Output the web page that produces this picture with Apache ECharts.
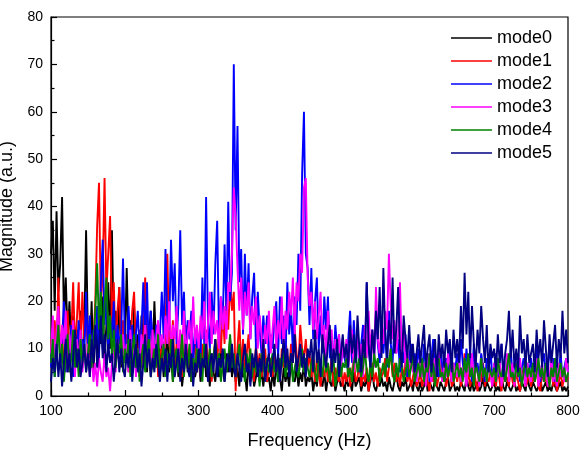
<!DOCTYPE html>
<html>
<head>
<meta charset="utf-8">
<script src="https://cdn.jsdelivr.net/npm/echarts@6/dist/echarts.min.js"></script>
<style>html,body{margin:0;padding:0;background:#fff}#c{width:581px;height:452px}</style>
</head>
<body>
<div id="c"></div>
<script>
// Frequency grid: 100 Hz .. 800 Hz, 2.5 Hz spacing (each row below = 50 Hz)
const freqStart = 100;
const freqStep = 2.5;
const seriesNames = ['mode0', 'mode1', 'mode2', 'mode3', 'mode4', 'mode5'];
const seriesColors = ['#000000', '#ff0000', '#0000ff', '#ff00ff', '#008000', '#000080'];

const mode0 = [
  30,37,18,39,22,28,42,16,25,12,20,9,17,7,14,10,18,6,13,35,
  12,8,20,5,14,9,17,11,21,7,15,24,10,35,13,18,8,23,6,14,
  9,27,11,16,6,19,8,13,4,17,10,14,5,12,18,7,20,9,15,6,
  11,4,8,13,5,9,3,7,10,4,8,2,6,11,5,7,3,9,4,6,
  8,3,6,10,4,7,2,9,5,3,8,4,11,6,3,9,5,12,4,7,
  3,6,2,8,4,5,1,7,3,6,2,4,8,3,5,2,6,3,4,1,
  5,2,7,3,4,1,6,3,5,2,8,4,3,6,2,5,3,7,2,4,
  3,5,1,4,2,6,3,2,5,1,4,3,2,5,1,3,4,2,3,1,
  4,2,3,1,5,2,3,4,1,3,2,4,1,3,5,2,1,3,2,4,
  2,3,1,4,2,1,3,5,2,1,3,2,4,1,2,3,1,4,2,1,
  3,1,2,4,1,3,2,1,4,2,1,3,2,1,3,4,1,2,3,1,
  2,1,3,2,1,4,2,1,3,1,2,3,1,2,4,1,3,2,1,2,
  3,1,2,1,4,2,1,3,2,1,2,3,1,2,1,3,2,1,4,2,
  1,3,2,1,2,4,1,2,3,1,2,1,3,2,1,2,3,1,2,1,
  2
];
const mode1 = [
  12,6,16,9,25,7,14,5,11,18,8,13,24,10,16,24,9,22,12,18,
  8,15,6,12,20,36,45,19,26,46,22,30,38,15,24,9,18,23,10,16,
  7,13,5,11,18,22,9,8,14,6,12,25,10,15,5,11,7,13,4,9,
  10,6,14,30,12,8,16,5,11,7,13,4,9,15,6,10,3,8,12,5,
  9,4,11,7,14,5,10,3,8,12,6,15,9,18,11,21,14,24,18,22,
  1,10,16,6,12,4,9,13,5,8,3,11,6,9,4,7,10,3,6,8,
  4,9,5,7,3,10,6,12,8,5,11,7,14,9,6,15,10,8,12,6,
  9,4,7,3,8,5,2,6,4,7,3,5,8,2,6,4,3,7,2,5,
  3,6,2,5,8,3,4,7,2,5,3,6,1,4,7,3,5,2,6,4,
  5,8,3,6,10,4,7,3,5,2,6,4,8,3,5,2,4,6,2,3,
  5,2,4,7,3,1,5,3,6,2,4,8,3,5,2,4,6,2,3,5,
  3,6,2,4,9,3,5,2,4,6,3,1,5,3,7,2,4,3,5,2,
  4,2,6,3,1,5,3,4,2,6,3,2,5,3,1,4,6,2,3,5,
  2,4,3,6,2,1,5,3,4,2,3,6,2,4,1,3,5,2,4,3,
  4
];
const mode2 = [
  6,14,4,10,17,7,12,20,5,11,8,15,4,13,9,16,6,12,8,22,
  10,17,7,14,11,19,8,24,33,15,21,9,17,12,20,8,15,11,13,29,
  12,7,19,10,15,6,13,18,9,14,24,11,24,8,18,12,7,15,10,13,
  22,12,31,16,14,33,20,28,11,19,35,15,22,9,16,12,18,7,14,10,
  13,8,25,11,42,16,10,22,13,28,37,12,21,15,32,18,41,20,26,70,
  35,57,24,31,13,30,17,28,12,21,26,10,22,14,9,17,11,17,8,13,
  10,16,20,8,21,11,17,7,24,13,19,9,21,15,30,18,47,60,30,27,
  15,27,12,20,25,10,17,9,21,14,21,8,12,7,15,10,13,6,11,8,
  6,12,18,7,16,9,13,5,11,15,8,24,10,6,14,8,17,11,7,13,
  9,14,6,18,11,7,15,9,12,5,10,7,13,4,8,11,6,9,5,10,
  7,4,11,6,9,3,8,12,5,7,4,10,6,3,8,5,11,4,7,6,
  9,5,12,7,4,10,6,8,3,11,5,7,4,9,6,3,8,5,10,4,
  6,9,4,7,11,5,3,8,6,10,4,7,5,9,3,6,8,4,7,5,
  8,4,6,10,5,3,7,9,4,6,11,5,8,3,7,5,9,4,6,8,
  5
];
const mode3 = [
  9,17,6,14,19,8,15,11,18,5,13,9,16,4,12,7,14,5,10,6,
  11,4,9,3,7,2,8,5,3,9,4,6,1,7,10,5,12,6,9,13,
  7,11,5,14,8,12,4,10,6,13,9,15,7,11,5,14,8,12,16,10,
  13,8,17,11,20,9,15,12,19,7,14,10,18,8,13,16,9,21,11,15,
  10,17,12,20,9,15,22,11,18,13,16,10,21,14,19,12,24,22,30,44,
  38,27,18,25,14,22,17,24,12,19,15,21,10,17,13,8,15,11,18,9,
  14,19,10,16,12,21,9,18,14,22,17,25,13,24,20,30,26,44,46,25,
  19,22,14,20,12,17,22,10,15,8,18,11,14,7,12,9,13,6,11,8,
  12,6,10,14,5,9,13,7,11,4,15,8,18,10,14,6,23,12,9,16,
  11,18,14,30,19,12,16,9,13,24,8,15,6,10,4,8,5,7,3,6,
  8,4,7,2,9,5,3,6,8,4,10,5,3,7,4,9,6,3,7,5,
  4,8,3,6,5,2,7,4,9,3,6,5,2,8,4,6,3,7,5,2,
  7,3,5,8,2,6,4,9,3,5,7,2,6,4,8,3,5,2,7,4,
  3,6,4,8,2,5,7,3,6,2,4,8,3,5,2,7,4,6,3,8,
  5
];
const mode4 = [
  7,12,4,10,15,6,11,3,9,13,5,8,14,6,10,4,12,7,11,5,
  9,13,6,11,18,28,14,22,10,19,25,12,17,8,14,6,11,9,13,5,
  10,7,12,4,9,13,6,10,3,8,11,5,9,12,4,7,10,6,13,5,
  8,11,4,9,6,12,3,8,10,5,7,13,4,9,6,11,3,8,5,10,
  6,9,3,11,7,5,10,4,8,12,6,9,3,7,10,5,8,13,6,9,
  4,8,11,5,7,3,9,6,10,4,8,5,7,2,9,6,4,8,5,7,
  9,5,7,3,8,6,10,4,7,5,9,3,6,8,4,7,10,5,8,6,
  4,7,9,5,3,8,6,4,9,5,7,3,6,8,2,5,9,4,7,6,
  8,4,6,3,7,9,5,8,4,6,10,5,3,7,4,9,6,8,3,5,
  7,4,9,6,10,5,3,7,4,8,6,3,5,8,4,6,9,3,5,7,
  4,8,3,6,5,9,4,7,2,6,8,4,5,3,7,4,6,9,3,5,
  7,4,6,3,8,5,9,4,6,2,7,5,3,8,4,6,3,7,5,4,
  6,3,8,5,4,7,3,6,9,4,5,3,7,4,6,2,5,8,4,6,
  4,7,3,5,8,4,6,3,7,5,2,6,4,8,3,5,7,4,6,3,
  5
];
const mode5 = [
  3,8,5,11,4,9,2,7,12,5,9,3,8,14,6,10,4,7,11,5,
  9,4,12,7,15,6,10,17,8,13,5,11,7,9,3,8,12,5,10,6,
  4,9,6,12,3,8,11,5,9,2,7,13,6,10,4,8,5,11,7,3,
  8,5,10,3,9,6,12,4,7,10,3,8,5,11,6,4,9,2,7,5,
  10,4,8,6,11,3,7,9,5,12,4,8,6,10,3,7,9,5,11,6,
  4,9,6,3,8,11,5,7,2,9,6,10,4,8,5,12,3,7,9,4,
  7,11,5,9,3,8,12,6,10,4,9,7,13,5,8,11,6,9,4,10,
  8,12,5,14,7,10,4,13,9,6,11,15,5,10,7,12,4,9,13,8,
  11,6,15,9,13,7,17,10,5,12,8,24,11,6,14,9,18,12,23,8,
  27,13,8,16,11,25,9,14,23,10,6,17,12,8,15,7,11,5,9,13,
  7,11,15,6,10,13,5,9,12,4,13,8,11,6,14,9,12,5,14,8,
  12,7,19,10,26,13,22,8,19,11,6,14,9,19,12,7,15,5,11,8,
  10,5,13,7,11,4,9,12,18,8,14,6,10,5,17,9,12,6,13,7,
  9,11,5,14,8,12,6,16,10,4,13,7,11,15,6,12,8,18,9,14,
  7
];
const xTicks = [100, 200, 300, 400, 500, 600, 700, 800];
const yTicks = [0, 10, 20, 30, 40, 50, 60, 70, 80];

const allModes = [mode0, mode1, mode2, mode3, mode4, mode5];
const FONT = 'Liberation Sans, Arial, sans-serif';

const chart = echarts.init(document.getElementById('c'), null, {renderer: 'canvas'});
chart.setOption({
  animation: false,
  backgroundColor: '#fff',
  grid: {left: 51, right: 13, top: 17, bottom: 56, outerBoundsMode: 'none', containLabel: false,
         show: true, borderColor: '#000', borderWidth: 1.2, backgroundColor: 'transparent'},
  legend: {
    orient: 'vertical', right: 24, top: 24,
    icon: 'rect', itemWidth: 41, itemHeight: 1.6, itemGap: 5,
    data: seriesNames,
    textStyle: {fontFamily: FONT, fontSize: 18, color: '#000', lineHeight: 18}
  },
  xAxis: {
    type: 'value', min: xTicks[0], max: xTicks[xTicks.length - 1], interval: 100,
    name: 'Frequency (Hz)', nameLocation: 'middle', nameGap: 36,
    nameTextStyle: {fontFamily: FONT, fontSize: 18, color: '#000'},
    axisLine: {show: true, lineStyle: {color: '#000', width: 1.2}},
    axisTick: {show: true, inside: true, length: 6, lineStyle: {color: '#000', width: 1.2}},
    minorTick: {show: true, splitNumber: 2, length: 3.5, lineStyle: {color: '#000', width: 1.2}},
    axisLabel: {fontFamily: FONT, fontSize: 14, color: '#000', margin: 8},
    splitLine: {show: false}
  },
  yAxis: {
    type: 'value', min: yTicks[0], max: yTicks[yTicks.length - 1], interval: 10,
    name: 'Magnitude (a.u.)', nameLocation: 'middle', nameGap: 26,
    nameTextStyle: {fontFamily: FONT, fontSize: 18, color: '#000'},
    axisLine: {show: true, lineStyle: {color: '#000', width: 1.2}},
    axisTick: {show: true, inside: true, length: 6, lineStyle: {color: '#000', width: 1.2}},
    minorTick: {show: true, splitNumber: 2, length: 3.5, lineStyle: {color: '#000', width: 1.2}},
    axisLabel: {fontFamily: FONT, fontSize: 14, color: '#000', margin: 8},
    splitLine: {show: false}
  },
  series: seriesNames.map((name, k) => ({
    name: name,
    type: 'line',
    showSymbol: false,
    symbol: 'none',
    sampling: null,
    color: seriesColors[k],
    lineStyle: {color: seriesColors[k], width: 1.9},
    data: allModes[k].map((v, i) => [freqStart + i * freqStep, v])
  }))
});
</script>
</body>
</html>
